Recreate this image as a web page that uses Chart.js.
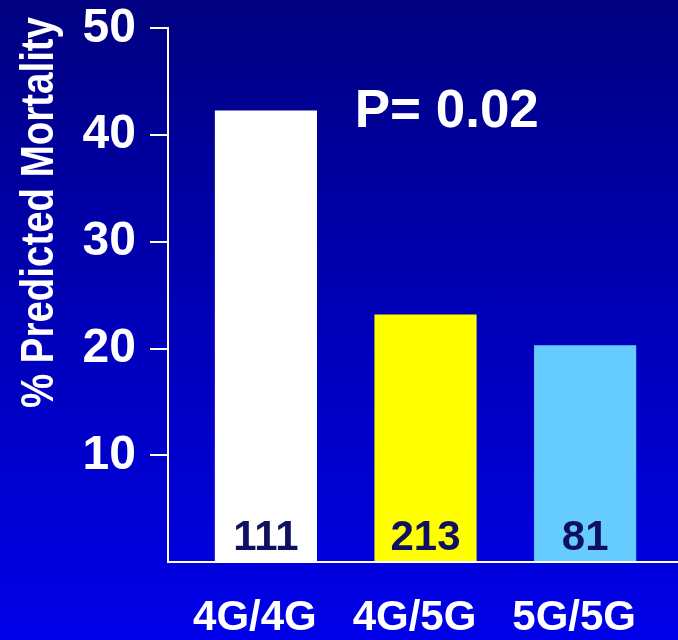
<!DOCTYPE html>
<html>
<head>
<meta charset="utf-8">
<script src="https://cdn.jsdelivr.net/npm/chart.js@4/dist/chart.umd.min.js"></script>
<style>
  html, body { margin: 0; padding: 0; }
  body { width: 678px; height: 640px; background: linear-gradient(to bottom, #000080 0%, #0000b8 50%, #0000e8 100%); overflow: hidden; }
  canvas { display: block; }
</style>
</head>
<body>
<canvas id="c" width="678" height="640"></canvas>
<script>
const categories = ["4G/4G", "4G/5G", "5G/5G"];
const mortality = [42.3, 23.2, 20.3];
const counts = ["111", "213", "81"];
const barColors = ["#FFFFFF", "#FFFF00", "#66CCFF"];
const yTicks = [10, 20, 30, 40, 50];
const axisTitle = "% Predicted Mortality";
const pValueText = "P= 0.02";

const FONT = "'Liberation Sans', Arial, sans-serif";

const overlay = {
  id: 'overlay',
  afterDatasetsDraw(chart) {
    const ctx = chart.ctx;
    const xs = chart.scales.x, ys = chart.scales.y;
    ctx.save();
    ctx.font = "bold 42px " + FONT;
    ctx.fillStyle = "#101060";
    ctx.textAlign = "center";
    ctx.textBaseline = "alphabetic";
    const meta = chart.getDatasetMeta(0);
    meta.data.forEach((bar, i) => {
      ctx.fillText(counts[i], bar.x, ys.getPixelForValue(0) - 12);
    });
    ctx.font = "bold 53px " + FONT;
    ctx.fillStyle = "#FFFFFF";
    ctx.fillText(pValueText, xs.getPixelForValue(1.133), ys.getPixelForValue(40.8));
    ctx.translate(53, 212.5);
    ctx.rotate(-Math.PI / 2);
    ctx.font = "bold 46px " + FONT;
    ctx.textAlign = "center";
    ctx.fillText(axisTitle, 0, 0, 391);
    ctx.restore();
  }
};

new Chart(document.getElementById('c'), {
  type: 'bar',
  data: {
    datasets: [{
      data: categories.map((c, i) => ({ x: i, y: mortality[i] })),
      backgroundColor: barColors,
      borderWidth: 0,
      barPercentage: 0.64,
      categoryPercentage: 1
    }]
  },
  options: {
    responsive: false,
    animation: false,
    layout: { padding: { left: 0, right: 0, top: 0, bottom: 0 } },
    plugins: { legend: { display: false }, tooltip: { enabled: false } },
    scales: {
      x: {
        type: 'linear',
        offset: false,
        min: -0.6135,
        max: 2.579,
        afterBuildTicks: (scale) => { scale.ticks = categories.map((c, i) => ({ value: i })); },
        afterFit: (scale) => { scale.height = 78; },
        grid: { display: false, drawTicks: false, tickLength: 0 },
        border: { display: true, color: '#FFFFFF', width: 2 },
        ticks: {
          color: '#FFFFFF',
          font: { family: FONT, size: 42, weight: 'bold' },
          padding: 31,
          labelOffset: -11,
          maxRotation: 0,
          autoSkip: false,
          callback: (v) => categories[v] ?? ''
        }
      },
      y: {
        min: 0,
        max: 50,
        afterBuildTicks: (scale) => { scale.ticks = [0].concat(yTicks).map(v => ({ value: v })); },
        afterFit: (scale) => { scale.width = 168; },
        grid: {
          drawOnChartArea: false,
          drawTicks: true,
          tickLength: 18,
          lineWidth: 2,
          color: (ctx) => (ctx.tick && ctx.tick.value === 0) ? 'rgba(0,0,0,0)' : '#FFFFFF'
        },
        border: { display: true, color: '#FFFFFF', width: 2 },
        ticks: {
          color: '#FFFFFF',
          font: { family: FONT, size: 48, weight: 'bold', lineHeight: 0.6 },
          padding: 14,
          callback: (v) => v === 0 ? '' : String(v)
        }
      }
    }
  },
  plugins: [overlay]
});
</script>
</body>
</html>
